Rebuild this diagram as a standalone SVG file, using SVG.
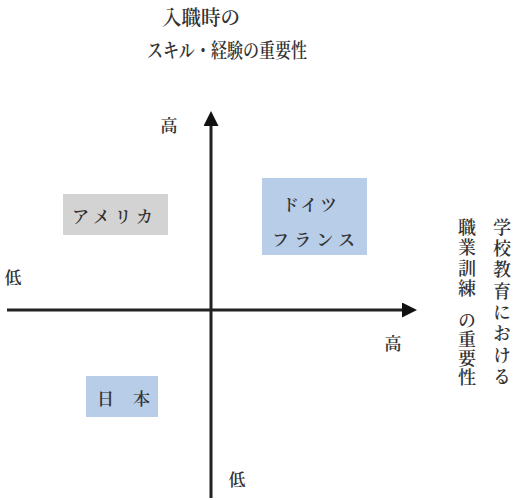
<svg xmlns="http://www.w3.org/2000/svg" width="515" height="500" viewBox="0 0 515 500">
<defs>
<style>
text{font-family:"Noto Serif CJK JP","Noto Sans CJK JP",serif;fill:#333;font-weight:600;}
.lbl{font-size:17px;text-anchor:middle;dominant-baseline:central;}
.ttl{font-size:20px;}
.box{font-size:17px;dominant-baseline:central;}
.ax{stroke:#222;stroke-width:3;fill:none;}
.v{font-size:18px;writing-mode:vertical-rl;text-orientation:upright;}
</style>
<marker id="arr" viewBox="0 0 10 10" refX="0" refY="5" markerWidth="5" markerHeight="5" orient="auto" markerUnits="strokeWidth">
<path d="M0,0 L10,5 L0,10 z" fill="#111"/>
</marker>
</defs>
<rect width="515" height="500" fill="#fff"/>
<g id="connectors">
<line class="ax" x1="211" y1="498" x2="211" y2="126" marker-end="url(#arr)"/>
<line class="ax" x1="7" y1="310" x2="402" y2="310" marker-end="url(#arr)"/>
</g>
<g id="title">
<text class="ttl" x="162" y="25" textLength="78" lengthAdjust="spacingAndGlyphs">入職時の</text>
<text class="ttl" x="147" y="58" textLength="160" lengthAdjust="spacingAndGlyphs">スキル・経験の重要性</text>
</g>
<g id="axis-labels">
<text class="lbl" x="169" y="124">高</text>
<text class="lbl" x="13" y="276">低</text>
<text class="lbl" x="393" y="342">高</text>
<text class="lbl" x="237" y="478">低</text>
</g>
<g id="node-america">
<rect x="63" y="194" width="105" height="41" fill="#d3d3d3"/>
<text class="box" x="72" y="215" textLength="81">アメリカ</text>
</g>
<g id="node-germany-france">
<rect x="262" y="178" width="105" height="77" fill="#b8cde8"/>
<text class="box" x="282" y="203" textLength="55">ドイツ</text>
<text class="box" x="272" y="238" textLength="83">フランス</text>
</g>
<g id="node-japan">
<rect x="86" y="376" width="72" height="41" fill="#b8cde8"/>
<text class="box" x="97" y="397" textLength="53">日本</text>
</g>
<g id="right-label">
<text class="v" x="502" y="218" letter-spacing="3.3">学校教育における</text>
<text class="v" x="467" y="218" letter-spacing="2.5">職業訓練</text>
<text class="v" x="467" y="311" letter-spacing="1">の重要性</text>
</g>
</svg>
